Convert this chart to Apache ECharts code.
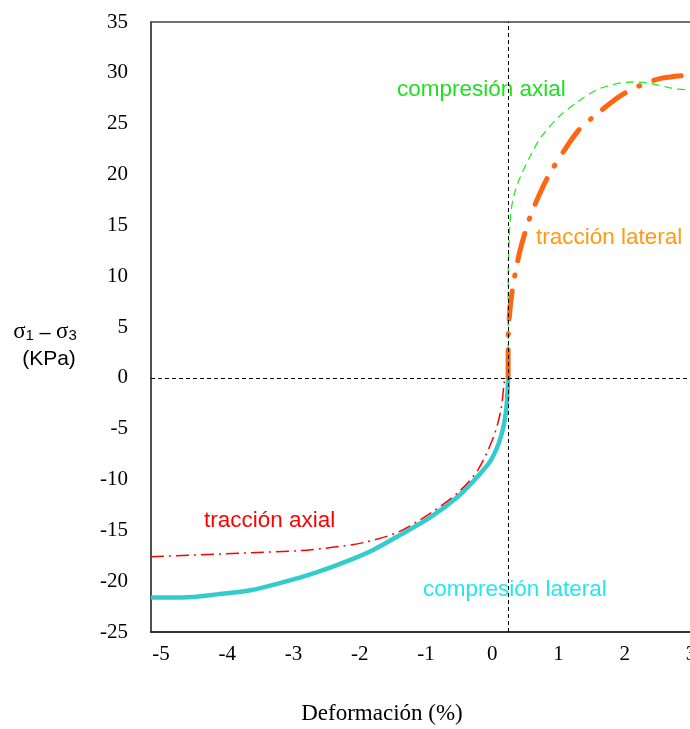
<!DOCTYPE html>
<html>
<head>
<meta charset="utf-8">
<title>Deformación</title>
<script src="https://cdn.jsdelivr.net/npm/echarts@6/dist/echarts.min.js"></script>
<style>
    html, body { margin: 0; padding: 0; background: #fff; overflow: hidden; }
    #chart { width: 690px; height: 729px; }
</style>
</head>
<body>
<div id="chart"></div>
<script>
    // x axis tick labels (Deformación %)
    var xTicks = [-5, -4, -3, -2, -1, 0, 1, 2, 3];

    // curves, [deformación, σ1 - σ3]
    var compresionLateral = [
        [-5.15, -21.6], [-4.67, -21.6], [-4.15, -21.3], [-3.65, -20.9], [-3.15, -20.1],
        [-2.64, -19.1], [-2.14, -17.9], [-1.79, -16.9], [-1.43, -15.6], [-0.93, -13.7],
        [-0.52, -11.7], [-0.22, -9.7], [-0.02, -8.1], [0.13, -5.8], [0.21, -3.2], [0.24, 0]
    ];
    var traccionAxial = [
        [-5.15, -17.6], [-3.65, -17.2], [-2.9, -17.0], [-2.44, -16.7], [-1.94, -16.2],
        [-1.43, -15.2], [-0.93, -13.3], [-0.52, -11.3], [-0.22, -9.1], [0.02, -5.8],
        [0.13, -3.2], [0.18, -0.5], [0.19, 0]
    ];
    var compresionAxial = [
        [0.24, 0], [0.24, 4.7], [0.24, 9.6], [0.25, 12.6], [0.28, 16.2], [0.33, 18.0],
        [0.42, 19.7], [0.58, 21.9], [0.74, 23.7], [1.01, 25.7], [1.3, 27.2], [1.64, 28.5],
        [2.1, 29.1], [2.35, 29.0], [2.7, 28.5], [3.0, 28.3]
    ];
    var traccionLateral = [
        [0.24, 0], [0.24, 3.2], [0.25, 5.4], [0.3, 8.5], [0.36, 10.7], [0.43, 12.8],
        [0.57, 15.8], [0.71, 18.0], [0.86, 20.0], [1.11, 22.6], [1.31, 24.4], [1.57, 25.9],
        [1.95, 27.8], [2.25, 28.8], [2.58, 29.5], [3.0, 29.8]
    ];

    // dashed reference lines
    var refX = [0.24];
    var refY = [0];

    var serif = '"Liberation Serif", "DejaVu Serif", serif';
    var sans = '"Liberation Sans", Arial, sans-serif';

    var chart = echarts.init(document.getElementById('chart'));
    chart.setOption({
        animation: false,
        backgroundColor: '#fff',
        grid: {
            left: 151,
            top: 22,
            right: -1,
            bottom: 97,
            outerBoundsMode: 'none',
            containLabel: false,
            show: true,
            borderColor: '#444',
            borderWidth: 1.5
        },
        xAxis: {
            type: 'value',
            min: -5.15,
            max: 3,
            axisLine: { show: true, onZero: false, lineStyle: { color: '#222', width: 1.5 } },
            axisTick: { show: false },
            splitLine: { show: false },
            axisLabel: {
                customValues: xTicks,
                margin: 12,
                color: '#000',
                fontFamily: serif,
                fontSize: 21
            }
        },
        yAxis: {
            type: 'value',
            min: -25,
            max: 35,
            interval: 5,
            axisLine: { show: true, onZero: false, lineStyle: { color: '#444', width: 1.5 } },
            axisTick: { show: false },
            splitLine: { show: false },
            axisLabel: {
                margin: 23,
                color: '#000',
                fontFamily: serif,
                fontSize: 21
            }
        },
        series: [
            {
                name: 'compresión lateral',
                type: 'line',
                data: compresionLateral,
                smooth: 0.3,
                showSymbol: false,
                lineStyle: { color: '#33cccc', width: 4.5 },
                markLine: {
                    silent: true,
                    symbol: 'none',
                    label: { show: false },
                    lineStyle: { color: '#000', width: 1, type: [4, 3] },
                    data: [{ xAxis: refX[0] }, { yAxis: refY[0] }]
                }
            },
            {
                name: 'tracción axial',
                type: 'line',
                data: traccionAxial,
                smooth: 0.3,
                showSymbol: false,
                lineStyle: { color: '#ff0000', width: 1.5, type: [13, 5, 2, 5] }
            },
            {
                name: 'compresión axial',
                type: 'line',
                data: compresionAxial,
                smooth: 0.3,
                showSymbol: false,
                lineStyle: { color: '#22ee22', width: 1.3, type: [8, 5] }
            },
            {
                name: 'tracción lateral',
                type: 'line',
                data: traccionLateral,
                smooth: 0.3,
                showSymbol: false,
                lineStyle: { color: '#ff6611', width: 5, type: [28, 15, 1, 15], cap: 'round' }
            }
        ],
        graphic: [
            {
                type: 'text', x: 397, y: 90,
                style: { text: 'compresión axial', fill: '#22dd22', font: '22.5px ' + sans, verticalAlign: 'middle' }
            },
            {
                type: 'text', x: 536, y: 238,
                style: { text: 'tracción lateral', fill: '#ff9911', font: '22.5px ' + sans, verticalAlign: 'middle' }
            },
            {
                type: 'text', x: 204, y: 521,
                style: { text: 'tracción axial', fill: '#ff0000', font: '22.5px ' + sans, verticalAlign: 'middle' }
            },
            {
                type: 'text', x: 423, y: 590,
                style: { text: 'compresión lateral', fill: '#22e6f2', font: '22.5px ' + sans, verticalAlign: 'middle' }
            },
            {
                // y axis name with subscripts
                type: 'text', x: 45, y: 331,
                style: {
                    text: '{s|σ}{sub|1}{m| – }{s|σ}{sub|3}',
                    align: 'center',
                    verticalAlign: 'middle',
                    rich: {
                        s: { fontFamily: serif, fontSize: 23, fill: '#000', verticalAlign: 'bottom' },
                        m: { fontFamily: sans, fontSize: 20, fill: '#000', verticalAlign: 'bottom' },
                        sub: { fontFamily: sans, fontSize: 15, fill: '#000', verticalAlign: 'bottom', padding: [10, 0, 0, 0] }
                    }
                }
            },
            {
                type: 'text', x: 49, y: 359,
                style: { text: '(KPa)', fill: '#000', font: '21px ' + sans, align: 'center', verticalAlign: 'middle' }
            },
            {
                type: 'text', x: 382, y: 714,
                style: { text: 'Deformación (%)', fill: '#000', font: '23px ' + serif, align: 'center', verticalAlign: 'middle' }
            }
        ]
    });
</script>
</body>
</html>
